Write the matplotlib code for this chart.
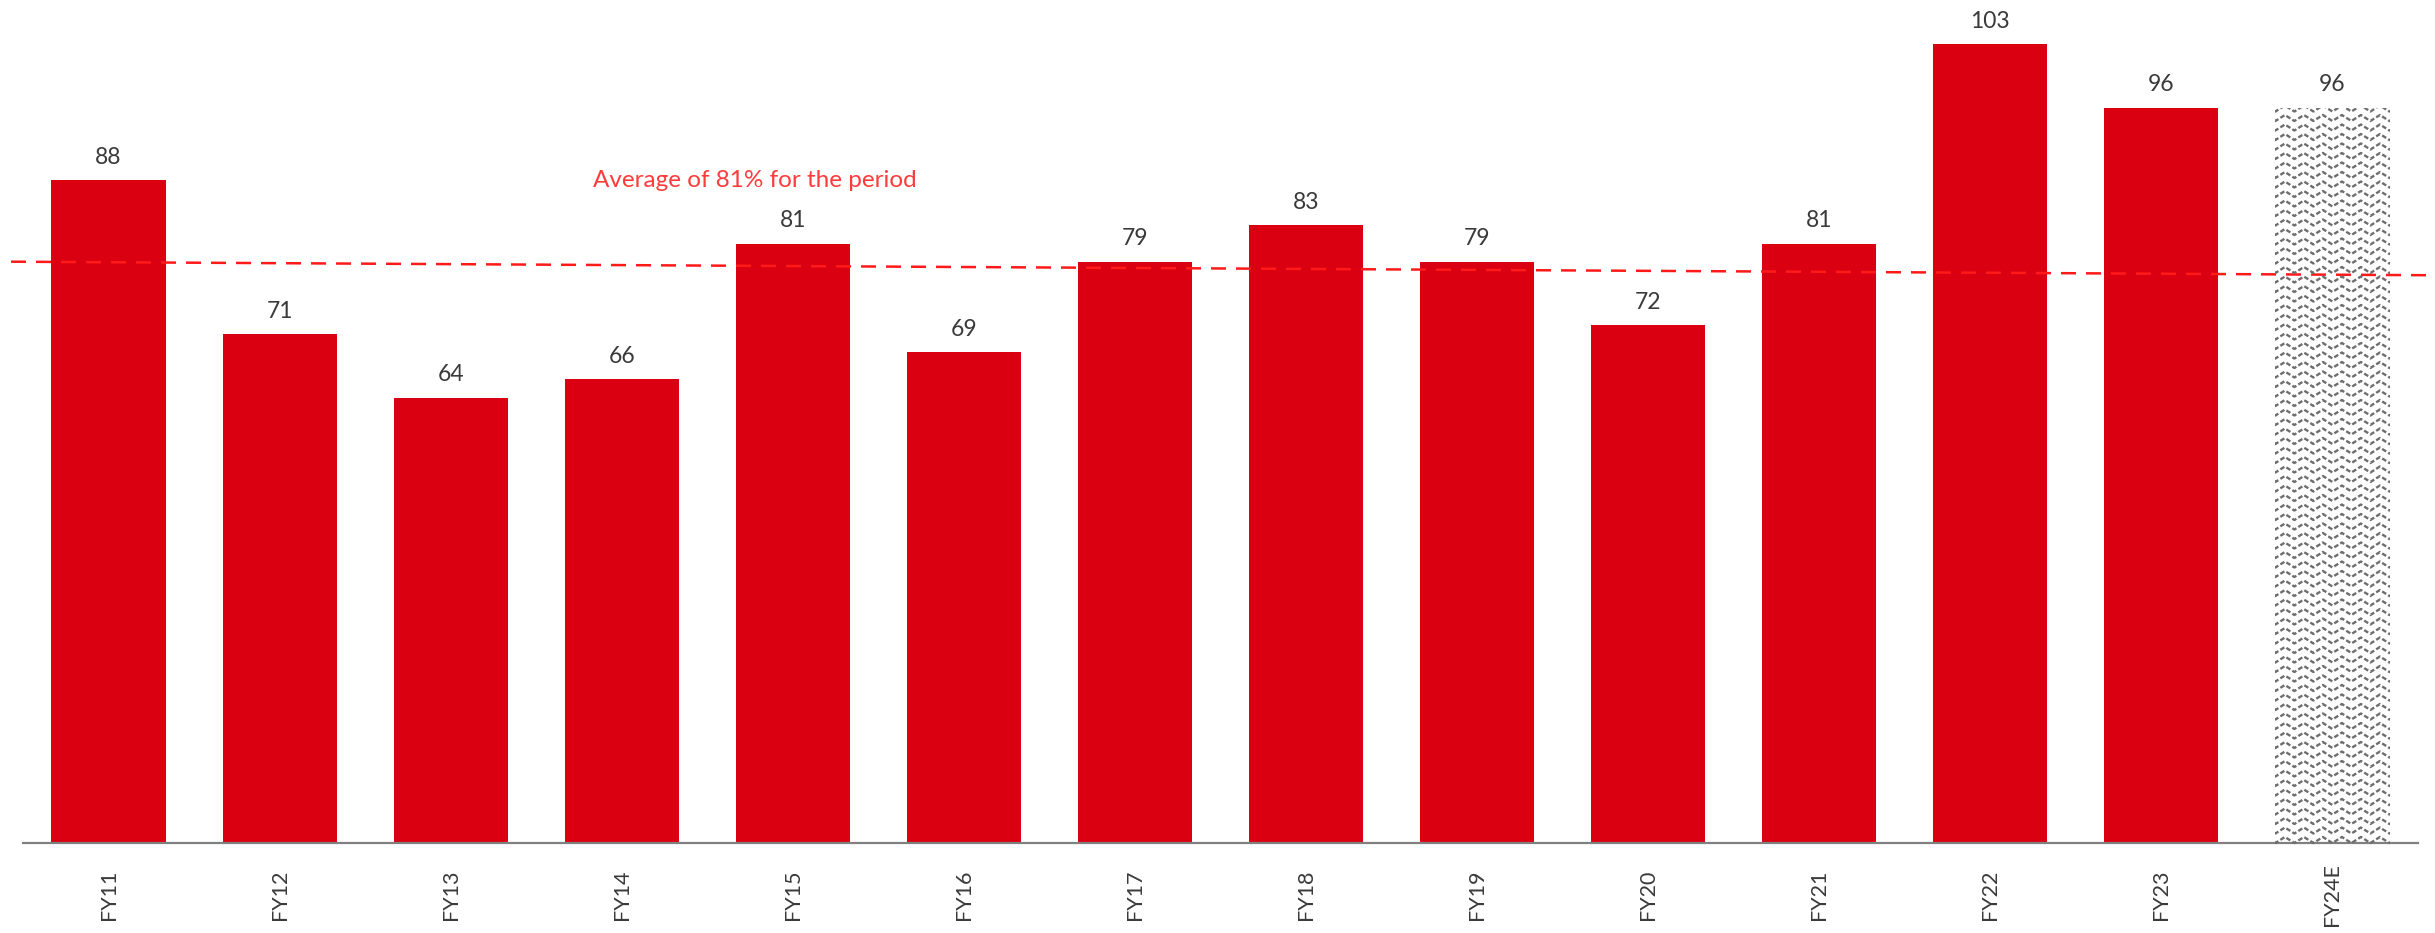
"""Bar chart of yearly ratio with average line and estimated final year."""

import matplotlib
matplotlib.use("Agg")
import matplotlib.pyplot as plt
from matplotlib.lines import Line2D
from matplotlib.transforms import IdentityTransform
import numpy as np

years = ["FY11", "FY12", "FY13", "FY14", "FY15", "FY16", "FY17",
         "FY18", "FY19", "FY20", "FY21", "FY22", "FY23", "FY24E"]
values = [88, 71, 64, 66, 81, 69, 79, 83, 79, 72, 81, 103, 96, 96]
estimated = [False] * 13 + [True]

avg_label = "Average of 81% for the period"
avg_ends = [79.0, 77.5]  # dashed average line, left and right end

BAR_RED = "#DA0012"
TEXT = "#3a3a3a"
FONT = ["Lato", "DejaVu Sans"]

plt.rcParams["font.family"] = FONT

fig = plt.figure(figsize=(24.35, 9.33), dpi=100)
ax = fig.add_axes([23 / 2435, 90 / 933, (2418 - 23) / 2435, 843 / 933])

x = np.arange(len(years))
bars = ax.bar(x, values, width=0.667, color=BAR_RED, zorder=2)

ax.set_xlim(-0.5, len(years) - 0.5)
ax.set_ylim(14.8, 107.9)

for spine in ("top", "right", "left"):
    ax.spines[spine].set_visible(False)
ax.spines["bottom"].set_color("#808080")
ax.spines["bottom"].set_linewidth(1.6)
ax.set_yticks([])
ax.set_xticks(x)
ax.set_xticklabels(years, rotation=90, fontsize=15.5, color=TEXT,
                   va="center")
ax.tick_params(axis="x", length=0, pad=37)

# value labels above each bar
for bar, val in zip(bars, values):
    ax.annotate(f"{val}", (bar.get_x() + bar.get_width() / 2, bar.get_height()),
                xytext=(0, 9), textcoords="offset points", ha="center",
                va="bottom", fontsize=16.5, color=TEXT)

fig.canvas.draw()

# estimated year: white bar filled with grey zigzag rows
for bar, est in zip(bars, estimated):
    if not est:
        continue
    bar.set_facecolor("white")
    (x0, y0), (x1, y1) = ax.transData.transform(
        [(bar.get_x(), ax.get_ylim()[0]),
         (bar.get_x() + bar.get_width(), bar.get_height())])
    period, amp, step = 19.0, 6.0, 9.5
    xs = np.arange(x0 - period, x1 + period, period / 2)
    for row_y in np.arange(y0, y1 + step, step):
        ys = row_y + np.where(np.arange(len(xs)) % 2 == 0, 0, amp)
        zig = Line2D(xs, ys, transform=IdentityTransform(), color="#6e6e6e",
                     linewidth=1.7, linestyle=(0, (2, 1)), zorder=3)
        zig.set_clip_path(bar)
        fig.add_artist(zig)

# slightly sloped dashed average line, running past the axes edges
ax.plot([-0.57, 13.6], avg_ends, color="#FF1A1A", linewidth=1.8,
        linestyle=(0, (6, 4)), clip_on=False, zorder=4)
ax.text(3.78, 88.0, avg_label, ha="center", va="center", fontsize=17.5,
        color="#FF3B3B")

fig.savefig("out.png", dpi=100)
